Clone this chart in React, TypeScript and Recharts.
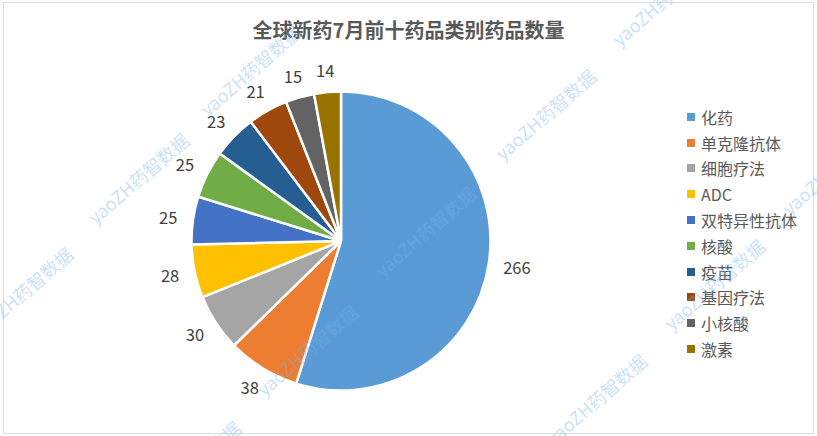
import React from "react";
import { PieChart, Pie, Cell, Legend } from "recharts";

const categories = ["化药", "单克隆抗体", "细胞疗法", "ADC", "双特异性抗体", "核酸", "疫苗", "基因疗法", "小核酸", "激素"];
const counts = [266, 38, 30, 28, 25, 25, 23, 21, 15, 14];
const colors = ["#5B9BD5", "#ED7D31", "#A5A5A5", "#FFC000", "#4472C4", "#70AD47", "#255E91", "#9E480E", "#636363", "#997300"];
const title = "全球新药7月前十药品类别药品数量";
const watermarkText = "yaoZH药智数据";
const watermarkCenters = [
  [250, 70], [138, 178], [22, 292], [425, 231], [307, 350], [545, 114], [662, 0],
  [714, 284], [596, 399], [832, 169], [190, 466],
];

const FONT = "'Noto Sans CJK SC', 'Noto Sans', sans-serif";
const data = categories.map((name, i) => ({ name, value: counts[i] }));
const RAD = Math.PI / 180;

const renderLabel = (p: any) => {
  const rx = p.outerRadius + 18 + String(p.value).length * 3.5;
  const ry = p.outerRadius + 22;
  const x = p.cx + rx * Math.cos(-p.midAngle * RAD);
  const y = p.cy - 0.5 + ry * Math.sin(-p.midAngle * RAD);
  return (
    <text x={x} y={y} textAnchor="middle" dominantBaseline="central" fontSize={16.5} fill="#404040" fontFamily={FONT}>
      {p.value}
    </text>
  );
};

const renderLegend = (props: any) => (
  <div style={{ fontFamily: FONT }}>
    {(props.payload || []).map((e: any) => (
      <div key={e.value} style={{ height: 25.8, display: "flex", alignItems: "center" }}>
        <span style={{ width: 8, height: 8, background: e.color, marginLeft: 2, marginRight: 6, display: "inline-block" }} />
        <span style={{ fontSize: 16, color: "#595959", lineHeight: "20px", whiteSpace: "nowrap" }}>{e.value}</span>
      </div>
    ))}
  </div>
);

export default function App() {
  return (
    <div style={{ position: "absolute", left: 0, top: 0, width: 817, height: 436, background: "#fff", overflow: "hidden" }}>
      <div style={{ position: "absolute", left: 3, top: 2, width: 809, height: 430, border: "1.5px solid #DDDDDD" }} />
      <div style={{ position: "absolute", left: 0, width: 817, top: 15, textAlign: "center", fontFamily: FONT, fontWeight: 700, fontSize: 20, lineHeight: "30px", color: "#595959" }}>
        {title}
      </div>
      <div style={{ position: "absolute", left: 0, top: 0 }}>
        <PieChart width={817} height={436} margin={{ top: 0, right: 0, bottom: 0, left: 0 }}>
          <Pie
            data={data}
            dataKey="value"
            nameKey="name"
            cx={341}
            cy={241}
            outerRadius={149.5}
            startAngle={90}
            endAngle={-270}
            stroke="#fff"
            strokeWidth={2.5}
            label={renderLabel}
            labelLine={false}
            isAnimationActive={false}
          >
            {data.map((d, i) => (
              <Cell key={d.name} fill={colors[i]} />
            ))}
          </Pie>
          <Legend content={renderLegend} layout="vertical" align="right" verticalAlign="top" itemSorter={null} wrapperStyle={{ left: 685, top: 104, width: 132 }} />
        </PieChart>
      </div>
      {watermarkCenters.map(([x, y]) => (
        <div
          key={`${x}-${y}`}
          style={{
            position: "absolute", left: x - 70, top: y - 12, width: 140, height: 24, lineHeight: "24px", textAlign: "center",
            transform: "rotate(-41deg)", fontFamily: FONT, fontSize: 18, color: "rgba(110,175,240,0.38)", whiteSpace: "nowrap", pointerEvents: "none",
          }}
        >
          {watermarkText}
        </div>
      ))}
    </div>
  );
}
